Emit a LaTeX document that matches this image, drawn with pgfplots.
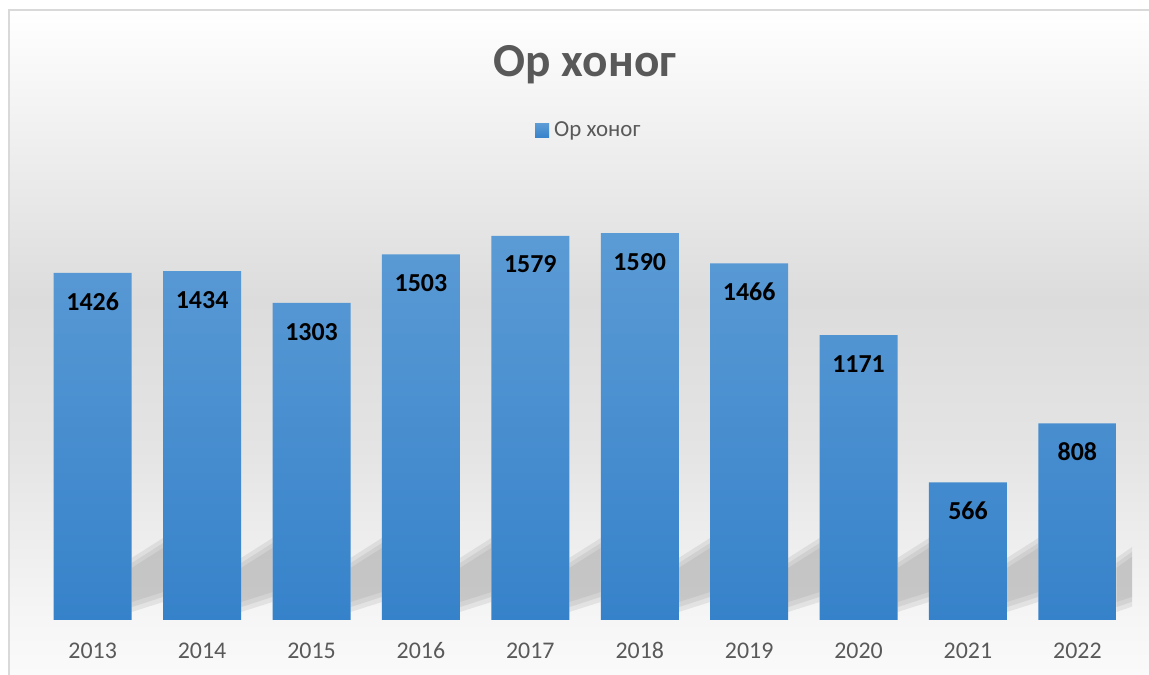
\documentclass[border=0pt]{standalone}
\usepackage{fontspec}
\setmainfont{Carlito}
\usepackage{pgfplots}
\pgfplotsset{compat=1.18}
\definecolor{txt}{HTML}{595959}
\definecolor{bartop}{HTML}{5B9BD5}
\definecolor{barbot}{HTML}{3682CA}
\definecolor{frame}{HTML}{D9D9D9}
\definecolor{shd}{RGB}{140,140,140}
\begin{document}
\begin{tikzpicture}[x=1bp,y=1bp]
\begin{scope}[shift={(-38,-55)}]
\useasboundingbox (0,0) rectangle (1149,675);
\fill[white] (0,0) rectangle (1149,675);
% background gradient
\shade[bottom color={rgb,255:red,250;green,250;blue,250}, top color={rgb,255:red,246;green,246;blue,246}] (9,0) rectangle (1149,55);
\shade[bottom color={rgb,255:red,246;green,246;blue,246}, top color={rgb,255:red,228;green,228;blue,228}] (9,55) rectangle (1149,225.5);
\shade[bottom color={rgb,255:red,228;green,228;blue,228}, top color={rgb,255:red,220;green,220;blue,220}] (9,225) rectangle (1149,375.5);
\shade[bottom color={rgb,255:red,220;green,220;blue,220}, top color=white] (9,375) rectangle (1149,665);
\draw[frame, line width=2bp] (9,0) -- (9,665) -- (1149,665);
% title
\node[font=\fontsize{47.5}{52}\selectfont\bfseries, text=txt, anchor=base, inner sep=0pt] at (585,598) {Ор хоног};
% legend
\shade[top color=bartop, bottom color=barbot] (535,537) rectangle (549,551);
\node[font=\fontsize{23}{27}\selectfont, text=txt, anchor=base west, inner sep=0pt] at (554,538) {Ор хоног};
\end{scope}
\begin{axis}[
  at={(0bp,0bp)}, anchor=south west,
  scale only axis, width=1094bp, height=438bp,
  ymin=0, ymax=1800, xmin=-0.5, xmax=9.5,
  axis line style={draw=none},
  ytick=\empty,
  xtick={0,...,9},
  xticklabels={2013,2014,2015,2016,2017,2018,2019,2020,2021,2022},
  xtick style={draw=none},
  xticklabel style={font=\fontsize{24}{28}\selectfont, text=txt, inner sep=0pt, text height=15.5bp, text depth=0pt, anchor=north, yshift=-23bp},
  /pgf/number format/1000 sep={},
  /pgf/number format/assume math mode=true,
  clip=false,
]
% soft floor shadows (decoration), drawn behind the bars
\pgfplotsinvokeforeach{0,...,8}{
  \addplot[draw=none, fill=shd, fill opacity=0.17] coordinates {(#1+0.3565,33) (#1+0.6435,74) (#1+0.6435,337) (#1+0.3565,255)} -- cycle;
  \addplot[draw=none, fill=shd, fill opacity=0.17] coordinates {(#1+0.3565,53) (#1+0.6435,95) (#1+0.6435,316) (#1+0.3565,234)} -- cycle;
  \addplot[draw=none, fill=shd, fill opacity=0.17] coordinates {(#1+0.3565,74) (#1+0.6435,115) (#1+0.6435,296) (#1+0.3565,214)} -- cycle;
}
\addplot[draw=none, fill=shd, fill opacity=0.17] coordinates {(9.3565,33) (9.5,55) (9.5,300) (9.3565,255)} -- cycle;
\addplot[draw=none, fill=shd, fill opacity=0.17] coordinates {(9.3565,53) (9.5,75) (9.5,280) (9.3565,234)} -- cycle;
\addplot[draw=none, fill=shd, fill opacity=0.17] coordinates {(9.3565,74) (9.5,95) (9.5,260) (9.3565,214)} -- cycle;
\addplot[ybar, bar width=78bp, draw=none, top color=bartop, bottom color=barbot,
  nodes near coords,
  every node near coord/.append style={anchor=north, inner sep=0pt, text height=17bp, text depth=0pt, yshift=-20bp, font=\fontsize{26}{30}\selectfont\bfseries, text=black}]
  coordinates {(0,1426) (1,1434) (2,1303) (3,1503) (4,1579) (5,1590) (6,1466) (7,1171) (8,566) (9,808)};
\end{axis}
\end{tikzpicture}
\end{document}
